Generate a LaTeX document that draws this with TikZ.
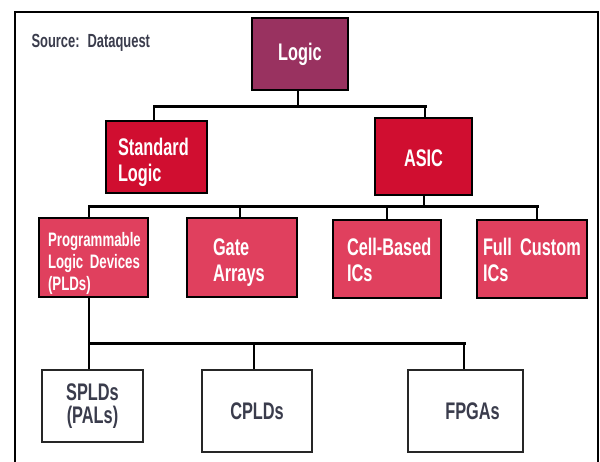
\documentclass[tikz,border=0pt]{standalone}
\usepackage{fontspec}
\setmainfont{Liberation Sans}[FakeStretch=0.68]
\definecolor{cLogic}{RGB}{153,50,96}
\definecolor{cOne}{RGB}{208,14,48}
\definecolor{cTwo}{RGB}{224,64,94}
\definecolor{cText}{RGB}{58,60,76}
\hyphenpenalty=10000
\exhyphenpenalty=10000
\begin{document}
\begin{tikzpicture}[x=1pt,y=-1pt,
  box/.style={draw=black, line width=1.3pt, inner ysep=0pt, text=white,
    font=\bfseries\fontsize{24}{26}\selectfont},
  lvlzero/.style={box, fill=cLogic},
  lvlone/.style={box, fill=cOne},
  lvltwo/.style={box, fill=cTwo},
  leaf/.style={draw=black!85, line width=1.3pt, fill=white, text=cText, align=center,
    font=\bfseries\fontsize{24}{23}\selectfont},
  bus/.style={line width=3pt, line cap=rect},
  drop/.style={line width=2pt}
]
\useasboundingbox (0,0) rectangle (600,462);
\draw[line width=2pt] (15,470) -- (15,12) -- (598,12) -- (598,470);
\node[anchor=base west, text=cText, font=\bfseries\fontsize{19}{20}\selectfont] (src) at (28,48) {Source:\, Dataquest};

% top
\node[lvlzero, minimum width=96pt, minimum height=72pt] (logic) at (300,54) {Logic};
% level one
\node[lvlone, text width=77pt, inner xsep=12pt, align=left, minimum height=72pt,
  text height=10pt, text depth=12pt] (std) at (156.5,157) {\mbox{Standard}\\\mbox{Logic}};
\node[lvlone, minimum width=97pt, minimum height=77pt, text height=21pt, text depth=0pt] (asic) at (423.5,156.5) {ASIC};
% level two
\node[lvltwo, text width=91pt, inner xsep=9pt, align=left, minimum height=79pt,
  text height=10pt, text depth=31pt,
  font=\bfseries\fontsize{19.5}{22}\selectfont] (pld) at (93.5,257.5) {\mbox{Programmable}\\\mbox{Logic Devices}\\\mbox{(PLDs)}};
\node[lvltwo, text width=58pt, inner xsep=26pt, align=left, minimum height=79pt,
  text height=10pt, text depth=13pt] (gate) at (242,257.5) {\mbox{Gate}\\\mbox{Arrays}};
\node[lvltwo, text width=80pt, inner xsep=14pt, align=left, minimum height=78pt,
  text height=10pt, text depth=16pt] (cell) at (387,259) {\mbox{Cell-Based}\\\mbox{ICs}};
\node[lvltwo, text width=98pt, inner xsep=6pt, align=left, minimum height=78pt,
  text height=10pt, text depth=16pt] (full) at (532,259) {\mbox{Full Custom}\\\mbox{ICs}};
% leaves
\node[leaf, minimum width=101pt, minimum height=72pt] (spld) at (92.5,406) {SPLDs\\(PALs)};
\node[leaf, minimum width=110pt, minimum height=82pt] (cpld) at (257,411) {CPLDs};
\node[leaf, minimum width=115pt, minimum height=82pt, text width=101pt, align=center] (fpga) at (465.5,411) {\hspace*{14pt}FPGAs};

% junctions
\coordinate (jA) at (298,107);
\coordinate (jB) at (424,207);
\coordinate (jC) at (89,344);

% connectors level 0 -> 1
\draw[drop] ([xshift=-2pt]logic.south) -- (jA);
\draw[bus] ([xshift=-2.5pt]std.north |- jA) -- ([xshift=1.5pt]asic.north |- jA);
\draw[drop] ([xshift=-2.5pt]std.north |- jA) -- ([xshift=-2.5pt]std.north);
\draw[drop] ([xshift=1.5pt]asic.north |- jA) -- ([xshift=1.5pt]asic.north);

% connectors level 1 -> 2
\draw[drop] ([xshift=0.5pt]asic.south) -- (jB);
\draw[bus] ([xshift=-4.5pt]pld.north |- jB) -- ([xshift=5pt]full.north |- jB);
\draw[drop] ([xshift=-4.5pt]pld.north |- jB) -- ([xshift=-4.5pt]pld.north);
\draw[drop] ([xshift=-2pt]gate.north |- jB) -- ([xshift=-2pt]gate.north);
\draw[drop] (cell.north |- jB) -- (cell.north);
\draw[drop] ([xshift=5pt]full.north |- jB) -- ([xshift=5pt]full.north);

% connectors PLD -> leaves
\draw[drop] ([xshift=-4.5pt]pld.south) -- (jC);
\draw[bus] (jC) -- ([xshift=-1.5pt]fpga.north |- jC);
\draw[drop] (jC) -- ([xshift=-3.5pt]spld.north);
\draw[drop] ([xshift=-3pt]cpld.north |- jC) -- ([xshift=-3pt]cpld.north);
\draw[drop] ([xshift=-1.5pt]fpga.north |- jC) -- ([xshift=-1.5pt]fpga.north);
\end{tikzpicture}
\end{document}
